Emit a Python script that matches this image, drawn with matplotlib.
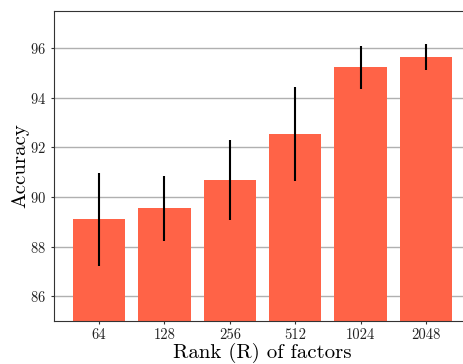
from matplotlib import pyplot as plt

import numpy as np

plt.rcParams['font.family'] = ['cmr10', 'DejaVu Serif']
plt.rcParams['axes.formatter.use_mathtext'] = True
plt.rcParams['mathtext.fontset'] = 'cm'

ranks = ["64", "128", "256", "512", "1024", "2048"]
accuracy = [89.1, 89.55, 90.68, 92.53, 95.23, 95.64]
errors = [1.88, 1.31, 1.62, 1.9, 0.87, 0.53]

fig = plt.figure(figsize=(4.64, 3.64), dpi=100)
ax = fig.add_axes([54 / 464, 43 / 364, 417 / 464, 310 / 364])

x = np.arange(len(ranks))
ax.set_axisbelow(True)
ax.grid(axis='y', color='#b0b0b0', linewidth=1.0)
ax.bar(x, accuracy, width=0.8, color='tomato', yerr=errors,
       error_kw=dict(ecolor='black', elinewidth=1.5, capsize=0))

ax.set_xticks(x)
ax.set_xticklabels(ranks)
ax.set_xlim(-0.69, 5.69)
ax.set_ylim(85, 97.5)
ax.set_yticks([86, 88, 90, 92, 94, 96])
ax.tick_params(labelsize=10.5, length=2.5, pad=3, colors='#333333', labelcolor='#222222')
for s in ax.spines.values():
    s.set_color('#333333')

ax.set_xlabel("Rank (R) of factors", fontsize=15)
ax.set_ylabel("Accuracy", fontsize=15)
ax.xaxis.set_label_coords(0.5, -0.072)
ax.yaxis.set_label_coords(-0.06, 0.5)

fig.savefig("out.png", dpi=100)
